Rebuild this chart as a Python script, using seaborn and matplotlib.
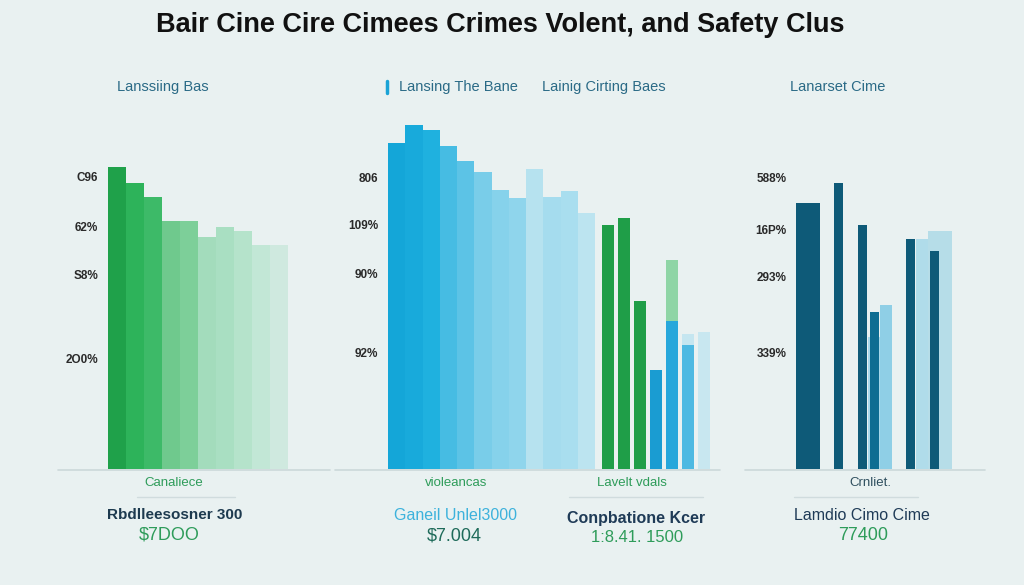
import matplotlib
matplotlib.use("Agg")
import matplotlib.pyplot as plt
from matplotlib import font_manager
import seaborn as sns

sns.set_theme(style="white")
names = {f.name for f in font_manager.fontManager.ttflist}
NARROW = "Liberation Sans Narrow" if "Liberation Sans Narrow" in names else "Liberation Sans"
plt.rcParams["font.family"] = [NARROW, "DejaVu Sans"]

BG = "#e9f1f1"

# ---------------- data ----------------
title = "Bair Cine Cire Cimees Crimes Volent, and Safety Clus"
subtitles = ["Lanssiing Bas", "Lansing The Bane", "Lainig Cirting Baes", "Lanarset Cime"]

p1_values = [101, 95.5, 91, 83, 83, 77.5, 81, 79.5, 75, 75]
p1_colors = ["#1fa14a", "#2db35a", "#3dba68", "#6fc98d", "#7dcf99",
             "#a3dcbc", "#a9dfc2", "#b5e3cb", "#c2e7d6", "#cfe9df"]
p1_ticks = [97.9, 80.9, 64.9, 37.1]
p1_ticklabels = ["C96", "62%", "S8%", "2O0%"]

p2_values = [109, 115, 113.3, 108, 103, 99.3, 93.3, 90.6, 100.3, 90.9, 92.9, 85.6]
p2_colors = ["#14a6d8", "#18aadb", "#1fb1df", "#46bce3", "#5cc3e6", "#79cde9",
             "#86d2eb", "#8fd5ec", "#b6e2ef", "#a5dcee", "#a9deef", "#bce4f0"]
p2_ticks = [97.6, 81.6, 65.5, 38.8]
p2_ticklabels = ["806", "109%", "90%", "92%"]

p2b_front = [81.6, 83.9, 56.2, 33.1, 49.5, 41.5, 0]
p2b_front_colors = ["#1f9e48", "#1f9e48", "#1f9e48", "#1a9cd2", "#27a7db", "#4db9e2", "#c8e7f0"]
p2b_back = [0, 0, 0, 0, 69.9, 45.1, 45.8]
p2b_back_colors = ["#8fd5a6", "#8fd5a6", "#8fd5a6", "#c5e6f0", "#8fd5a6", "#c5e6f0", "#c8e7f0"]

p3_back = [88.9, 88.9, 0, 0, 0, 0, 44.1, 54.8, 0, 0, 76.9, 79.6, 79.6]
p3_back_colors = ["#0e5a78", "#0e5a78", BG, BG, BG, BG, "#a8d8ea", "#8fcfe6",
                  BG, BG, "#b0dcea", "#b6dde8", "#b6dde8"]
p3_front = [0, 0, 0, 95.6, 0, 81.6, 52.5, 0, 0, 76.9, 0, 72.9, 0]
p3_front_colors = ["#0e5a78", "#0e5a78", "#0e5a78", "#0e5a78", "#0e5a78", "#0e5a78",
                   "#0f6d92", "#0e5a78", "#0e5a78", "#0e5a78", "#0e5a78", "#0e5a78", "#0e5a78"]
p3_ticks = [97.3, 79.9, 64.5, 38.8]
p3_ticklabels = ["588%", "16P%", "293%", "339%"]

# bottom annotations: (text, color, size, weight)
bottom_texts = [
    ("Canaliece", "#2e9c5a", 9.5, "normal", 174, 483),
    ("Rbdlleesosner 300", "#1d3a4f", 11, "bold", 175, 515),
    ("$7DOO", "#2e9c5a", 13, "normal", 169, 535),
    ("violeancas", "#2e9c5a", 9.5, "normal", 456, 483),
    ("Ganeil Unlel3000", "#3db2dc", 11.5, "normal", 455, 515),
    ("$7.004", "#1f6b5a", 13, "normal", 454, 536),
    ("Lavelt vdals", "#2e9c5a", 9.5, "normal", 632, 483),
    ("Conpbatione Kcer", "#1f3b57", 11.5, "bold", 636, 519),
    ("1:8.41. 1500", "#2e9c5a", 12, "normal", 637, 538),
    ("Crnliet.", "#2f4f5f", 9.5, "normal", 870, 483),
    ("Lamdio Cimo Cime", "#1f3b57", 11.5, "normal", 862, 516),
    ("77400", "#2e9c5a", 13, "normal", 863, 536),
]

# ---------------- layout ----------------
W, H = 1024, 585
fig = plt.figure(figsize=(W / 100, H / 100), dpi=100, facecolor=BG)
ax0 = fig.add_axes([0, 0, 1, 1], zorder=0)
ax0.set_xlim(0, W)
ax0.set_ylim(H, 0)
ax0.axis("off")
ax0.set_facecolor(BG)

BASE, TOP = 469, 110


def bar_axes(x0, x1):
    ax = fig.add_axes([x0 / W, 1 - BASE / H, (x1 - x0) / W, (BASE - TOP) / H], zorder=2)
    ax.patch.set_alpha(0)
    for s in ax.spines.values():
        s.set_visible(False)
    return ax


def draw(ax, values, colors, width):
    idx = list(range(len(values)))
    sns.barplot(x=idx, y=values, hue=idx, palette=colors, legend=False,
                width=width, saturation=1, linewidth=0, ax=ax)


def finish(ax, n, ticks=None, labels=None):
    ax.set_xlim(-0.5, n - 0.5)
    ax.set_ylim(0, 120)
    ax.set_xticks([])
    ax.set_xlabel("")
    ax.set_ylabel("")
    if ticks is None:
        ax.set_yticks([])
    else:
        ax.set_yticks(ticks)
        ax.set_yticklabels(labels, fontsize=8.5, color="#2a2a2a", fontweight="bold")
        ax.tick_params(axis="y", length=0, pad=7)


ax1 = bar_axes(108, 288)
draw(ax1, p1_values, p1_colors, 1.0)
finish(ax1, len(p1_values), p1_ticks, p1_ticklabels)

ax2 = bar_axes(388, 595)
draw(ax2, p2_values, p2_colors, 1.0)
finish(ax2, len(p2_values), p2_ticks, p2_ticklabels)

ax2b = bar_axes(600, 712)
draw(ax2b, p2b_back, p2b_back_colors, 0.75)
draw(ax2b, p2b_front, p2b_front_colors, 0.7)
finish(ax2b, len(p2b_front))

ax3 = bar_axes(796, 952)
draw(ax3, p3_back, p3_back_colors, 1.0)
draw(ax3, p3_front, p3_front_colors, 0.75)
finish(ax3, len(p3_front), p3_ticks, p3_ticklabels)

# baselines and separators
for xa, xb in [(58, 330), (335, 720), (745, 985)]:
    ax0.plot([xa, xb], [470, 470], color="#cbd8da", lw=1.2)
for xa, xb in [(137, 235), (569, 703), (794, 918)]:
    ax0.plot([xa, xb], [497, 497], color="#d0dcde", lw=1.0)

# titles
ax0.text(500, 25, title, ha="center", va="center", fontsize=19.5, fontweight="bold",
         color="#111111", family=["Liberation Sans", "DejaVu Sans"])
sub_x = [163, 458, 604, 838]
for t, x in zip(subtitles, sub_x):
    ax0.text(x, 87, t, ha="center", va="center", fontsize=10.5, color="#2a6a86")
ax0.plot([387, 387], [81, 93], color="#1aa3d6", lw=2.5)

for t, c, s, w, x, y in bottom_texts:
    ax0.text(x, y, t, ha="center", va="center", fontsize=s, fontweight=w, color=c)

fig.savefig("out.png", dpi=100, facecolor=BG)
